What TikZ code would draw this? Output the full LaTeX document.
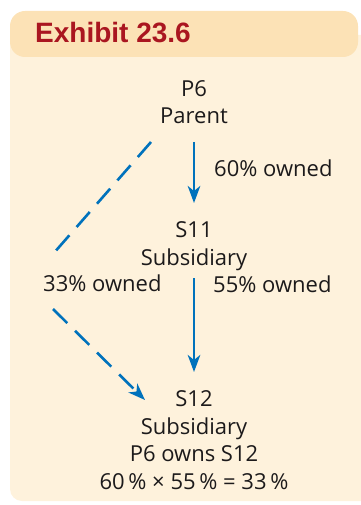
\documentclass[tikz,border=0pt]{standalone}
\usepackage{fontspec}
\setmainfont{Open Sans}
\newfontfamily\titlefont{Liberation Sans}
\usetikzlibrary{arrows.meta,calc}
\definecolor{hdr}{RGB}{252,226,182}
\definecolor{bodybg}{RGB}{254,242,220}
\definecolor{titlered}{RGB}{170,22,32}
\definecolor{arrblue}{RGB}{0,114,188}
\definecolor{txt}{RGB}{28,26,27}
\begin{document}
\begin{tikzpicture}[x=1pt,y=-1pt,
  lbl/.style={font=\fontsize{22}{27.5}\selectfont, text=txt, inner sep=0pt, align=center},
  solidarrow/.style={draw=arrblue, line width=2.6pt, -{Stealth[length=17pt,width=12.5pt,inset=5pt]}},
  dashline/.style={draw=arrblue, line width=2.6pt, dash pattern=on 20pt off 11pt},
  dasharrow/.style={dashline, -{Stealth[length=17pt,width=12.5pt,inset=5pt]}},
]
\useasboundingbox (0,0) rectangle (360,505);
\fill[bodybg, rounded corners=12pt] (10,35) rectangle (385,501);
\fill[hdr, rounded corners=15pt] (10,11) rectangle (358,57);
\node[anchor=base west, inner sep=0pt, font=\titlefont\bfseries\fontsize{28}{30}\selectfont, text=titlered] (title) at (35,43) {Exhibit 23.6};

% base anchor of a multi-line node = baseline of its last line
\node[lbl, anchor=base] (p6) at (194,124) {P6\\Parent};
\node[lbl, anchor=base west] (own60) at (214,176) {60\% owned};
\node[lbl, anchor=base] (s11) at (194,265) {S11\\Subsidiary};
\node[lbl, anchor=base west] (own33) at (43,291) {33\% owned};
\node[lbl, anchor=base west] (own55) at (213,292) {55\% owned};
\node[lbl, anchor=base] (s12) at (194,489) {S12\\Subsidiary\\P6 owns S12\\60\,\% × 55\,\% = 33\,\%};

\coordinate (bend1) at (53,254);
\coordinate (bend2) at (53,309);

\draw[solidarrow] ($(p6.base)+(0,18)$) -- ($(s11.base)+(0,-62)$);
\draw[solidarrow] ($(s11.base)+(0,13)$) -- ($(s12.base)+(0,-117)$);
\draw[dashline] ($(p6.base)+(-43,18)$) -- (bend1);
\draw[dasharrow] (bend2) -- ($(s12.base)+(-49,-89)$);
\end{tikzpicture}
\end{document}
